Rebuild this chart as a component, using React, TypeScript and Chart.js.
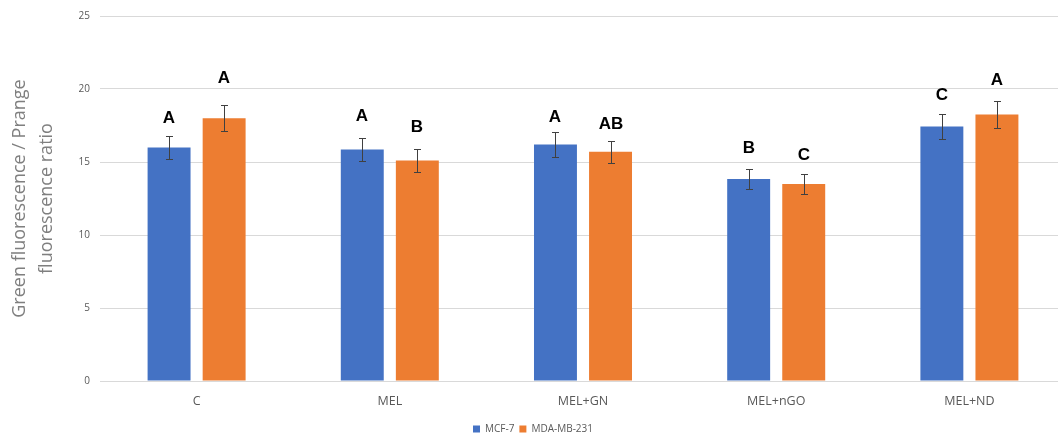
import React, { useEffect, useRef } from "react";
import { Chart, registerables } from "chart.js";

Chart.register(...registerables);

const categories = ["C", "MEL", "MEL+GN", "MEL+nGO", "MEL+ND"];
const seriesNames = ["MCF-7", "MDA-MB-231"];
const mcf7Values = [16.0, 15.85, 16.2, 13.84, 17.44];
const mdaValues = [18.0, 15.1, 15.7, 13.5, 18.25];
const mcf7Errors = [0.8, 0.78, 0.84, 0.7, 0.88];
const mdaErrors = [0.9, 0.77, 0.77, 0.7, 0.91];
const mcf7Letters = ["A", "A", "A", "B", "C"];
const mdaLetters = ["A", "B", "AB", "C", "A"];
const mcf7LetterY = [18.0, 18.15, 18.04, 15.91, 19.56];
const mdaLetterY = [20.75, 17.4, 17.58, 15.48, 20.59];
const yTicks = [0, 5, 10, 15, 20, 25];

const errorLetterPlugin = {
  id: "errorLetters",
  afterDatasetsDraw(chart: any) {
    const ctx = chart.ctx;
    const yScale = chart.scales.y;
    const sets = [
      { vals: mcf7Values, errs: mcf7Errors, letters: mcf7Letters, ly: mcf7LetterY },
      { vals: mdaValues, errs: mdaErrors, letters: mdaLetters, ly: mdaLetterY },
    ];
    sets.forEach((s, di) => {
      const meta = chart.getDatasetMeta(di);
      meta.data.forEach((el: any, i: number) => {
        const x = Math.round(el.x);
        const yt = Math.round(yScale.getPixelForValue(s.vals[i] + s.errs[i]));
        const yb = Math.round(yScale.getPixelForValue(s.vals[i] - s.errs[i]));
        ctx.save();
        ctx.strokeStyle = "#404040";
        ctx.lineWidth = 1;
        ctx.beginPath();
        ctx.moveTo(x + 0.5, yt);
        ctx.lineTo(x + 0.5, yb);
        ctx.moveTo(x - 3, yt + 0.5);
        ctx.lineTo(x + 4, yt + 0.5);
        ctx.moveTo(x - 3, yb + 0.5);
        ctx.lineTo(x + 4, yb + 0.5);
        ctx.stroke();
        ctx.fillStyle = "#000000";
        ctx.font = "bold 17px 'Liberation Sans', Arial, sans-serif";
        ctx.textAlign = "center";
        ctx.textBaseline = "middle";
        ctx.fillText(s.letters[i], x, yScale.getPixelForValue(s.ly[i]));
        ctx.restore();
      });
    });
  },
};

export default function App() {
  const ref = useRef<HTMLCanvasElement>(null);
  useEffect(() => {
    if (!ref.current) return;
    const chart = new Chart(ref.current, {
      type: "bar",
      data: {
        labels: categories,
        datasets: [
          {
            label: seriesNames[0],
            data: mcf7Values,
            backgroundColor: "#4472C4",
            categoryPercentage: 0.57,
            barPercentage: 0.78,
          },
          {
            label: seriesNames[1],
            data: mdaValues,
            backgroundColor: "#ED7D31",
            categoryPercentage: 0.57,
            barPercentage: 0.78,
          },
        ],
      },
      options: {
        responsive: false,
        animation: false,
        layout: { padding: { top: 14, right: 2, left: 0, bottom: -7 } },
        plugins: {
          tooltip: { enabled: false },
          legend: {
            position: "bottom",
            labels: {
              boxWidth: 7,
              boxHeight: 7,
              padding: 5,
              color: "#595959",
              font: { size: 10, family: "'Open Sans', sans-serif" },
            },
          },
        },
        scales: {
          x: {
            grid: { display: false },
            border: { display: false },
            afterFit: (scale: any) => {
              scale.height += 5;
            },
            ticks: {
              color: "#595959",
              padding: 5,
              font: { size: 12.5, family: "'Open Sans', sans-serif" },
            },
          },
          y: {
            min: 0,
            max: 25,
            afterBuildTicks: (scale: any) => {
              scale.ticks = yTicks.map((v) => ({ value: v }));
            },
            afterFit: (scale: any) => {
              scale.width = 100;
            },
            grid: { color: "#d9d9d9", drawTicks: false },
            border: { display: false },
            ticks: {
              color: "#595959",
              padding: 10,
              font: { size: 10, family: "'Open Sans', sans-serif" },
            },
            title: {
              display: true,
              text: ["Green fluorescence / Prange", "fluorescence ratio"],
              color: "#7f7f7f",
              font: { size: 18, family: "'Open Sans', sans-serif", lineHeight: 1.5 },
              padding: { top: 6, bottom: 0 },
            },
          },
        },
      },
      plugins: [errorLetterPlugin],
    });
    return () => chart.destroy();
  }, []);
  return (
    <div
      style={{
        position: "absolute",
        left: 0,
        top: 0,
        width: 1058,
        height: 437,
        overflow: "hidden",
        background: "#ffffff",
      }}
    >
      <canvas ref={ref} width={1068} height={437} style={{ width: 1068, height: 437, display: "block" }} />
    </div>
  );
}
